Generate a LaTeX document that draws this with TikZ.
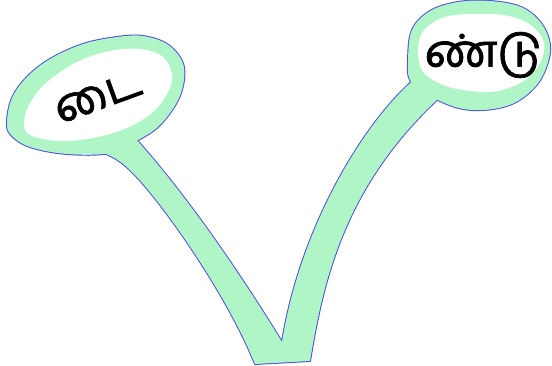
\documentclass[tikz,border=0pt]{standalone}
\usepackage{fontspec}
\newfontfamily\tamilfont[Script=Tamil, FakeBold=1.6]{Hind Madurai}
\definecolor{mint}{RGB}{176,245,198}
\definecolor{rim}{RGB}{72,72,228}
\tikzset{
  rimline/.style={draw=rim, line width=1.9pt, line join=round},
  mintfill/.style={fill=mint},
  glyph/.style={font=\tamilfont\fontsize{45}{45}\selectfont, inner sep=0pt}
}
\begin{document}
\begin{tikzpicture}[x=1pt,y=-1pt]
\useasboundingbox (0,0) rectangle (552,366);
% outer shapes
\def\leftouter{plot[smooth cycle, tension=0.6] coordinates {(7,122) (12,98) (27,77) (50,59) (83,44) (117,37) (143,36) (167,44) (182,61) (184,80) (177,102) (160,125) (140,139) (110,153) (67,154) (30,147) (11,135)}}
\def\rightouter{plot[smooth cycle, tension=0.6] coordinates {(408,60) (412,30) (430,11) (458,2) (490,1) (521,7) (541,23) (550,45) (546,68) (534,88) (512,104) (483,110) (455,107) (425,93) (410,80)}}
\def\vshape{(120,125) -- (92,150) .. controls (112,154) and (122,162) .. (133,173)
  .. controls (160,200) and (225,290) .. (255,364) -- (310,361)
  .. controls (322,290) and (340,190) .. (438,99) -- (445,85) -- (418,75) -- (408,85)
  .. controls (360,130) and (300,230) .. (282,342)
  .. controls (250,290) and (195,205) .. (135,138) -- cycle}
\path[rimline] \leftouter;
\path[rimline] \rightouter;
\path[rimline] \vshape;
\path[mintfill] \leftouter;
\path[mintfill] \rightouter;
\path[mintfill] \vshape;
% inner white
\fill[white] plot[smooth cycle, tension=0.6] coordinates {(24,125) (29,105) (46,83) (77,62) (110,51) (140,49) (163,57) (172,75) (168,92) (153,112) (127,128) (93,138) (60,141) (32,136)};
\fill[white] plot[smooth cycle, tension=0.6] coordinates {(418,50) (424,30) (445,17) (475,14) (509,16) (532,26) (544,43) (540,63) (525,80) (502,90) (482,92) (449,87) (424,73)};
% texts
\node[glyph, rotate=20] (lt) at (98,97) {டை};
\node[glyph] (rt) at (483,55) {ண்டு};
\end{tikzpicture}
\end{document}
